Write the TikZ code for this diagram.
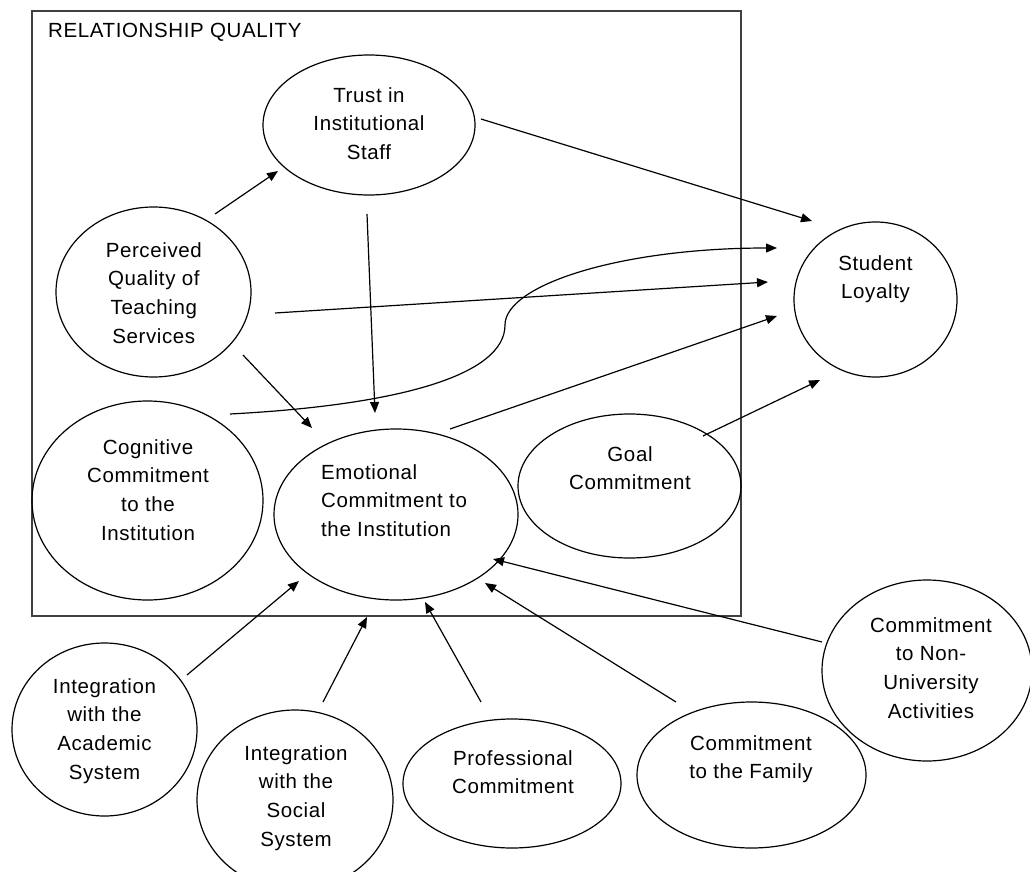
\documentclass[tikz,border=0pt]{standalone}
\usepackage{fontspec}
\setmainfont{Liberation Sans}[LetterSpace=3]
\usetikzlibrary{arrows.meta,shapes.geometric,calc}
% strut that fixes the top of every label block
\newcommand{\fst}{\rule{0pt}{16pt}}
\newcommand{\dfont}{\fontsize{20.5}{28.7}\selectfont}

\begin{document}
\begin{tikzpicture}[x=1pt,y=-1pt,
  oval/.style 2 args={ellipse, draw, line width=1.2pt, inner sep=0pt, outer sep=0pt,
    minimum width=#1, minimum height=#2},
  lbl/.style={inner sep=0pt, anchor=north, align=center, font=\dfont},
  arr/.style={line width=1.2pt, -{Triangle[length=11pt,width=9pt]}},
  frame/.style={draw=black!75, line width=1.6pt}]

\useasboundingbox (0,0) rectangle (1030,872);
\fill[white] (0,0) rectangle (1030,872);

% relationship quality frame
\draw[frame] (32,11) rectangle (741,616);
\node[inner sep=0pt, anchor=base west, font=\dfont] (rq) at (48,38) {RELATIONSHIP QUALITY};

% constructs
\node[oval={212pt}{140pt}] (trust) at (369,125) {};
\node[oval={195pt}{170pt}] (perc)  at (153.5,292) {};
\node[oval={231pt}{199pt}] (cog)   at (147.5,500.5) {};
\node[oval={244pt}{171pt}] (emo)   at (396,514.5) {};
\node[oval={223pt}{144pt}] (goal)  at (629.5,486) {};
\node[oval={163pt}{155pt}] (sl)    at (875.5,299.5) {};
\node[oval={185pt}{173pt}] (acad)  at (104.5,729.5) {};
\node[oval={196pt}{180pt}] (soc)   at (295,800) {};
\node[oval={218pt}{129pt}] (prof)  at (512,783.5) {};
\node[oval={229pt}{146pt}] (fam)   at (751.5,775) {};
\node[oval={210pt}{181pt}] (nonu)  at (927,670.5) {};

% labels
\node[lbl] (trust-t) at (369,86)    {\fst Trust in\\Institutional\\Staff};
\node[lbl] (perc-t)  at (153.8,241) {\fst Perceived\\Quality of\\Teaching\\Services};
\node[lbl] (cog-t)   at (148,438)   {\fst Cognitive\\Commitment\\to the\\Institution};
\node[lbl, anchor=north west, align=left] (emo-t) at (321,463) {\fst Emotional\\Commitment to\\the Institution};
\node[lbl] (goal-t)  at (630,445)   {\fst Goal\\Commitment};
\node[lbl] (sl-t)    at (875.5,254) {\fst Student\\Loyalty};
\node[lbl] (acad-t)  at (104.5,677) {\fst Integration\\with the\\Academic\\System};
\node[lbl] (soc-t)   at (296,744)   {\fst Integration\\with the\\Social\\System};
\node[lbl] (prof-t)  at (513,749)   {\fst Professional\\Commitment};
\node[lbl] (fam-t)   at (751,734)   {\fst Commitment\\to the Family};
\node[lbl] (nonu-t)  at (931,616)   {\fst Commitment\\to Non-\\University\\Activities};

% paths between constructs
\draw[arr] ($(perc)+(61.5,-78)$)   -- ($(trust)+(-91,46)$);
\draw[arr] ($(trust)+(112,-6)$)    -- ($(sl)+(-63.5,-78.5)$);
\draw[arr] ($(trust)+(-2,89)$)     -- ($(emo)+(-21,-101.5)$);
\draw[arr] ($(perc)+(89.5,63)$)    -- ($(emo)+(-84,-86.5)$);
\draw[arr] ($(perc)+(121.5,21)$)   -- ($(sl)+(-107.5,-17.5)$);
\draw[arr] ($(emo)+(54,-85.5)$)    -- ($(sl)+(-98.5,16.5)$);
\draw[arr] ($(goal)+(73.5,-50)$)   -- ($(sl)+(-55.5,80.5)$);
\coordinate (bend) at (505,325);
\draw[arr] ($(cog)+(82.5,-86.5)$) .. controls (400,405) and (505,375) .. (bend)
  .. controls (505,285) and (620,248) .. ($(sl)+(-98.5,-51.5)$);
\draw[arr] ($(acad)+(82.5,-54.5)$) -- ($(emo)+(-97,66.5)$);
\draw[arr] ($(soc)+(28,-98)$)      -- ($(emo)+(-29,102.5)$);
\draw[arr] ($(prof)+(-31,-81.5)$)  -- ($(emo)+(29,87.5)$);
\draw[arr] ($(fam)+(-75.5,-73)$)   -- ($(emo)+(89,68.5)$);
\draw[arr] ($(nonu)+(-105,-28.5)$) -- ($(emo)+(97,44.5)$);

\end{tikzpicture}
\end{document}
